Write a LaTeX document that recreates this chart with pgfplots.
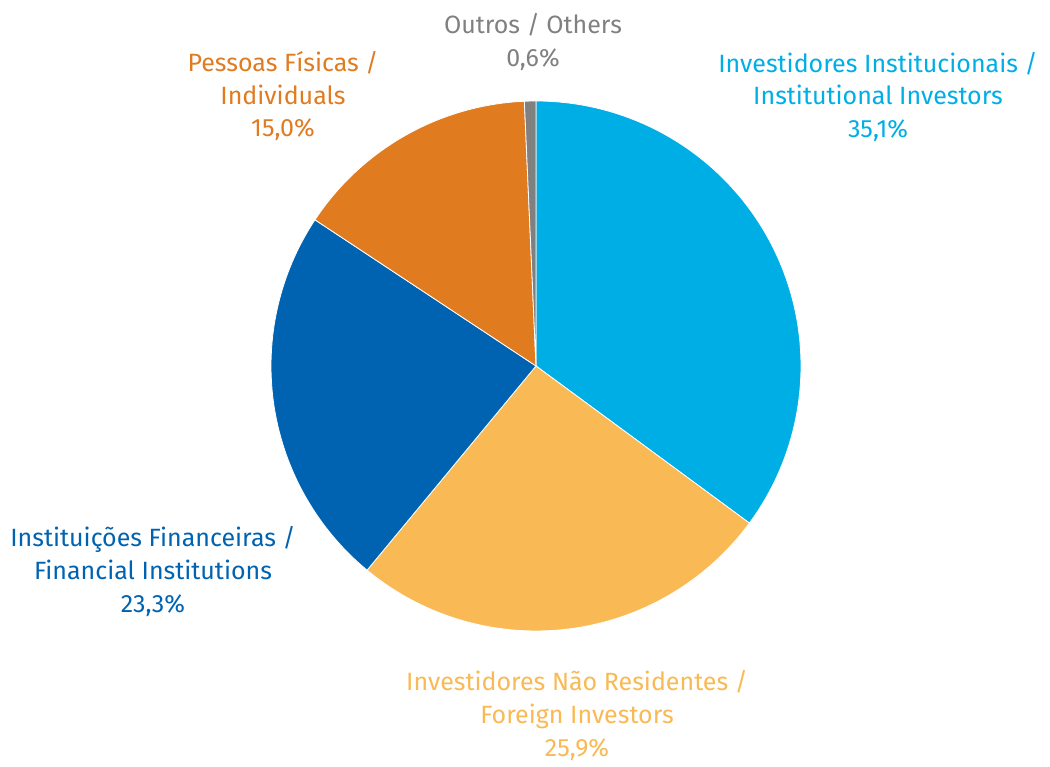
\documentclass[border=0pt]{standalone}
\usepackage{pgfplots}
\pgfplotsset{compat=1.18}
\usepackage{fontspec}
\setmainfont{Fira Sans}
\definecolor{cInst}{RGB}{0,174,230}
\definecolor{cForeign}{RGB}{249,185,84}
\definecolor{cFin}{RGB}{0,99,177}
\definecolor{cInd}{RGB}{224,123,31}
\definecolor{cOth}{RGB}{128,128,128}
% shares in percent
\def\vInst{35.1}
\def\vForeign{25.9}
\def\vFin{23.3}
\def\vInd{15.0}
\def\vOth{0.6}
\pgfmathsetmacro{\aA}{90}
\pgfmathsetmacro{\aB}{\aA-3.6*\vInst}
\pgfmathsetmacro{\aC}{\aB-3.6*\vForeign}
\pgfmathsetmacro{\aD}{\aC-3.6*\vFin}
\pgfmathsetmacro{\aE}{\aD-3.6*\vInd}
\pgfmathsetmacro{\aF}{-270}
\begin{document}
\begin{tikzpicture}
\begin{axis}[hide axis, scale only axis, width=525pt, height=381pt,
  xmin=0, xmax=1050, ymin=0, ymax=762, clip=false]
\addplot[draw=none] coordinates {(0,0) (1050,762)};
\addplot[fill=cInst, draw=white, line width=0.4pt, domain=\aB:\aA, samples=80] ({536+265*cos(x)},{396+265*sin(x)}) -- (axis cs:536,396) -- cycle;
\addplot[fill=cForeign, draw=white, line width=0.4pt, domain=\aC:\aB, samples=80] ({536+265*cos(x)},{396+265*sin(x)}) -- (axis cs:536,396) -- cycle;
\addplot[fill=cFin, draw=white, line width=0.4pt, domain=\aD:\aC, samples=80] ({536+265*cos(x)},{396+265*sin(x)}) -- (axis cs:536,396) -- cycle;
\addplot[fill=cInd, draw=white, line width=0.4pt, domain=\aE:\aD, samples=60] ({536+265*cos(x)},{396+265*sin(x)}) -- (axis cs:536,396) -- cycle;
\addplot[fill=cOth, draw=white, line width=0.4pt, domain=\aF:\aE, samples=10] ({536+265*cos(x)},{396+265*sin(x)}) -- (axis cs:536,396) -- cycle;
\tikzset{lbl/.style={align=center, font=\fontsize{12.5}{16.5}\selectfont}}
\node[lbl, text=cOth] at (axis cs:533,720) {Outros / Others\\0,6\%};
\node[lbl, text=cInd] at (axis cs:283,666) {Pessoas Físicas /\\Individuals\\15,0\%};
\node[lbl, text=cInst] at (axis cs:878,665) {Investidores Institucionais /\\Institutional Investors\\35,1\%};
\node[lbl, text=cFin] at (axis cs:153,191) {Instituições Financeiras /\\Financial Institutions\\23,3\%};
\node[lbl, text=cForeign] at (axis cs:577,47) {Investidores Não Residentes /\\Foreign Investors\\25,9\%};
\end{axis}
\end{tikzpicture}
\end{document}
